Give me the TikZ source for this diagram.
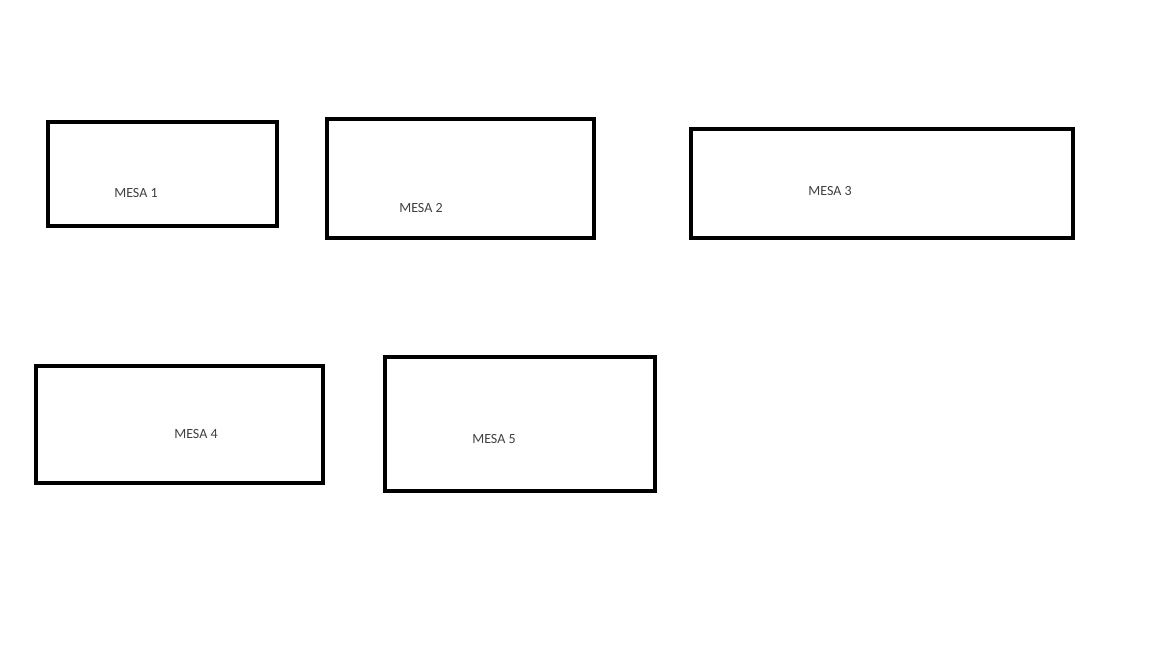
\documentclass[tikz,border=0pt]{standalone}
\usepackage{fontspec}
\setmainfont{Carlito}
\begin{document}
\begin{tikzpicture}[x=1pt,y=-1pt,
  mesabox/.style={draw=black,line width=4.5pt,rectangle,inner sep=0pt,fill=none},
  mesalabel/.style={font=\fontsize{14}{16}\selectfont,text=black!75,inner sep=0pt}]
\useasboundingbox (0,0) rectangle (1152,648);
\fill[white] (0,0) rectangle (1152,648);
\node[mesabox,minimum width=229pt,minimum height=104pt] (b1) at (162.5,174) {};
\node[mesabox,minimum width=267pt,minimum height=119pt] (b2) at (460.5,178.5) {};
\node[mesabox,minimum width=382pt,minimum height=109pt] (b3) at (882,183.5) {};
\node[mesabox,minimum width=287pt,minimum height=117pt] (b4) at (179.5,424.5) {};
\node[mesabox,minimum width=270pt,minimum height=134pt] (b5) at (520,424) {};
\node[mesalabel] (t1) at (136,193) {MESA 1};
\node[mesalabel] (t2) at (421,208) {MESA 2};
\node[mesalabel] (t3) at (830,191) {MESA 3};
\node[mesalabel] (t4) at (196,434) {MESA 4};
\node[mesalabel] (t5) at (494,439) {MESA 5};
\end{tikzpicture}
\end{document}
